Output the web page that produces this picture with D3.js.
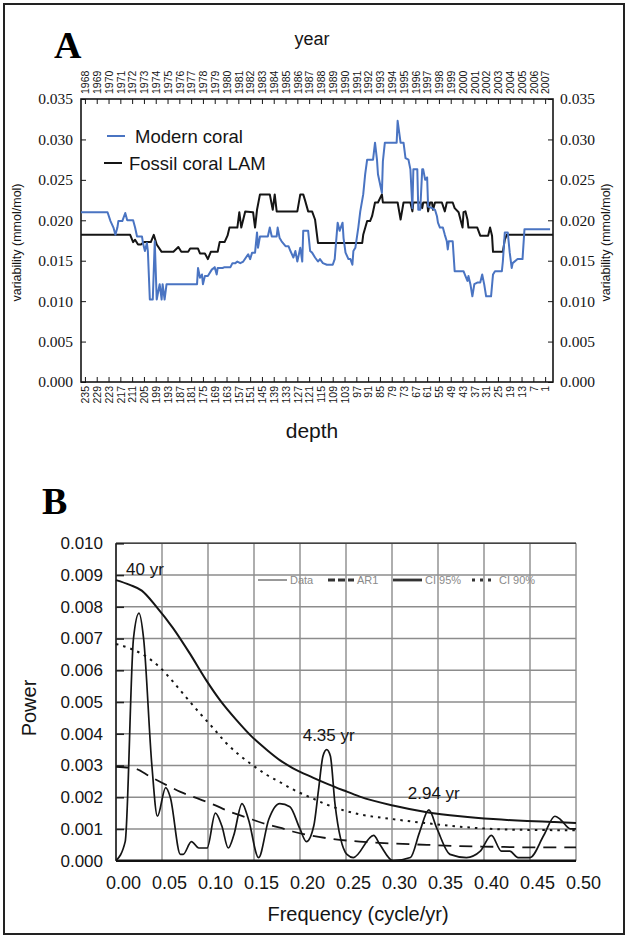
<!DOCTYPE html>
<html>
<head>
<meta charset="utf-8">
<script src="https://cdn.jsdelivr.net/npm/d3@7"></script>
<style>
  body { margin: 0; background: #fff; }
  svg { display: block; }
</style>
</head>
<body>
<svg id="fig" width="628" height="938"></svg>
<script>
// ---------- Panel A: running Sr/Ca variability along the core ----------
const depthTicks = d3.range(235, 0, -6);          // 235, 229, ... , 1
const yearTicks = d3.range(1968, 2008);           // 1968 ... 2007
const variabilityTicks = [0, 0.005, 0.010, 0.015, 0.020, 0.025, 0.030, 0.035];

const modernDepth = [237, 223.5, 222, 220.5, 219.5, 218.5, 218, 216, 214.5, 213.5, 210.5, 209.5, 208.5, 206,
  205.5, 204.5, 203.5, 203, 202, 200.5, 199.5, 198.5, 197, 196, 195.5, 194.5, 193.5, 178, 177.5, 176.5, 175.5,
  175, 174, 172.5, 170.5, 169, 168, 167.5, 165, 164, 161, 160, 158.5, 157.5, 156, 154.5, 152, 151, 150, 148.5,
  147.5, 147, 146, 142, 141, 140, 137.5, 137, 136, 135, 133, 131.5, 130.5, 129, 128, 127, 125.5, 124.5, 124,
  121.5, 120.5, 119.5, 118, 116.5, 115.5, 114, 112, 109, 108, 107, 106.5, 105.5, 104, 103.5, 102.5, 101, 100,
  99, 98.5, 97.5, 96, 95, 93.5, 92.5, 91.5, 88.5, 87.5, 86.5, 86, 84, 83.5, 82.5, 76.5, 76, 74.5, 73, 72, 70.5,
  69.5, 68.5, 68, 66, 65.5, 64.5, 63.5, 63, 62, 61, 60.5, 58.5, 57, 56, 55.5, 54.5, 53, 52, 51, 50.5, 50, 48,
  47, 42.5, 41.5, 40.5, 40, 39, 38, 37, 35.5, 34, 33, 32, 31, 28.5, 27.5, 26.5, 23, 22.5, 21.5, 20, 19, 18,
  17.5, 15, 12.5, 11.5, 10, -1.5];
const modernValue = [0.0210, 0.0210, 0.0199, 0.0191, 0.0182, 0.0191, 0.0199, 0.0199, 0.0209, 0.0200, 0.0200,
  0.0191, 0.0180, 0.0180, 0.0172, 0.0162, 0.0172, 0.0162, 0.0102, 0.0102, 0.0174, 0.0102, 0.0121, 0.0102,
  0.0121, 0.0102, 0.0121, 0.0121, 0.0141, 0.0129, 0.0133, 0.0121, 0.0131, 0.0131, 0.0139, 0.0142, 0.0133,
  0.0141, 0.0141, 0.0142, 0.0142, 0.0147, 0.0147, 0.0149, 0.0147, 0.0149, 0.0158, 0.0152, 0.0160, 0.0160,
  0.0185, 0.0166, 0.0180, 0.0180, 0.0191, 0.0180, 0.0180, 0.0191, 0.0178, 0.0174, 0.0168, 0.0168, 0.0162,
  0.0154, 0.0162, 0.0149, 0.0166, 0.0149, 0.0187, 0.0187, 0.0162, 0.0160, 0.0154, 0.0149, 0.0152, 0.0147,
  0.0145, 0.0145, 0.0152, 0.0182, 0.0197, 0.0187, 0.0197, 0.0178, 0.0160, 0.0152, 0.0152, 0.0145, 0.0162,
  0.0166, 0.0191, 0.0211, 0.0232, 0.0257, 0.0275, 0.0275, 0.0296, 0.0275, 0.0257, 0.0234, 0.0273, 0.0296,
  0.0296, 0.0323, 0.0296, 0.0296, 0.0277, 0.0275, 0.0263, 0.0215, 0.0263, 0.0263, 0.0213, 0.0213, 0.0263,
  0.0263, 0.0250, 0.0253, 0.0217, 0.0215, 0.0213, 0.0205, 0.0197, 0.0191, 0.0191, 0.0182, 0.0174, 0.0164,
  0.0174, 0.0174, 0.0137, 0.0137, 0.0131, 0.0125, 0.0131, 0.0121, 0.0106, 0.0121, 0.0123, 0.0123, 0.0133,
  0.0121, 0.0106, 0.0106, 0.0133, 0.0137, 0.0137, 0.0149, 0.0185, 0.0185, 0.0160, 0.0141, 0.0147, 0.0152,
  0.0152, 0.0189, 0.0189, 0.0189];

const fossilDepth = [237, 212, 210.5, 209.5, 208, 206.5, 205, 201.5, 200, 198.5, 196, 190, 187.5, 186, 182.5,
  181.5, 177.5, 176.5, 174, 172.5, 171, 167.5, 166.5, 164, 162.5, 161.5, 157.5, 156.5, 155.5, 153.5, 149.5,
  148.5, 147.5, 146, 141, 139.5, 138.5, 137.5, 127, 125.5, 124, 123, 121.5, 119.5, 118, 116.5, 94, 93.5, 91.5,
  90, 89, 87.5, 86, 84, 83.5, 76, 74.5, 73, 69.5, 68.5, 68, 64.5, 63.5, 63, 61, 60.5, 59.5, 58.5, 58, 57, 53.5,
  52, 51, 48, 47, 45, 43, 42.5, 41.5, 40.5, 40, 35.5, 34, 30, 29, 28, 27.5, 22.5, 21.5, 20.5, -3];
const fossilValue = [0.0182, 0.0182, 0.0173, 0.0176, 0.0170, 0.0170, 0.0173, 0.0173, 0.0182, 0.0170, 0.0161,
  0.0161, 0.0167, 0.0161, 0.0161, 0.0165, 0.0165, 0.0159, 0.0159, 0.0152, 0.0161, 0.0161, 0.0173, 0.0173,
  0.0181, 0.0191, 0.0191, 0.0210, 0.0191, 0.0211, 0.0210, 0.0191, 0.0213, 0.0232, 0.0232, 0.0213, 0.0232,
  0.0211, 0.0211, 0.0232, 0.0232, 0.0224, 0.0211, 0.0211, 0.0201, 0.0172, 0.0172, 0.0182, 0.0199, 0.0199,
  0.0205, 0.0222, 0.0222, 0.0232, 0.0222, 0.0222, 0.0201, 0.0222, 0.0222, 0.0211, 0.0222, 0.0222, 0.0215,
  0.0222, 0.0222, 0.0211, 0.0222, 0.0222, 0.0213, 0.0222, 0.0222, 0.0211, 0.0222, 0.0222, 0.0215, 0.0210,
  0.0191, 0.0210, 0.0211, 0.0201, 0.0191, 0.0191, 0.0181, 0.0181, 0.0191, 0.0181, 0.0161, 0.0161, 0.0176,
  0.0182, 0.0182];

// ---------- Panel B: power spectrum ----------
const freqTicks = [0, 0.05, 0.10, 0.15, 0.20, 0.25, 0.30, 0.35, 0.40, 0.45, 0.50];
const powerTicks = [0, 0.001, 0.002, 0.003, 0.004, 0.005, 0.006, 0.007, 0.008, 0.009, 0.010];

const spectrumFreq = [0, 0.010, 0.019, 0.025, 0.030, 0.039, 0.045, 0.054, 0.059, 0.070, 0.073, 0.082, 0.090,
  0.099, 0.108, 0.115, 0.122, 0.128, 0.137, 0.144, 0.155, 0.166, 0.178, 0.189, 0.200, 0.207, 0.215, 0.220,
  0.225, 0.229, 0.233, 0.238, 0.251, 0.258, 0.280, 0.287, 0.301, 0.320, 0.330, 0.340, 0.349, 0.363, 0.381,
  0.396, 0.408, 0.419, 0.428, 0.437, 0.450, 0.465, 0.477, 0.483, 0.494, 0.500];
const spectrumPower = [0, 0.0006, 0.0070, 0.0078, 0.0070, 0.0030, 0.0014, 0.0023, 0.0020, 0.0002, 0.0002,
  0.0006, 0.0004, 0.0004, 0.0015, 0.0011, 0.0004, 0.0008, 0.0018, 0.0013, 0.0001, 0.0013, 0.0018, 0.0017,
  0.0010, 0.0006, 0.0011, 0.0022, 0.0033, 0.0035, 0.0033, 0.0018, 0.0002, 0.0001, 0.0008, 0.0005, 0.0000,
  0.0001, 0.0009, 0.0016, 0.0010, 0.0002, 0.0001, 0.0003, 0.0008, 0.0003, 0.0003, 0.0001, 0.0001, 0.0008,
  0.0014, 0.0013, 0.0010, 0.0010];

const ar1Freq = [0, 0.021, 0.037, 0.055, 0.070, 0.088, 0.105, 0.124, 0.142, 0.160, 0.178, 0.192, 0.229, 0.265,
  0.301, 0.338, 0.374, 0.410, 0.447, 0.500];
const ar1Power = [0.00296, 0.00290, 0.00265, 0.00238, 0.00217, 0.00197, 0.00178, 0.00154, 0.00136, 0.00118,
  0.00104, 0.00092, 0.00071, 0.00060, 0.00054, 0.00050, 0.00046, 0.00044, 0.00042, 0.00042];

const ci95Freq = [0, 0.015, 0.028, 0.044, 0.062, 0.080, 0.098, 0.113, 0.131, 0.149, 0.164, 0.178, 0.192, 0.214,
  0.229, 0.247, 0.265, 0.301, 0.338, 0.374, 0.410, 0.447, 0.475, 0.500];
const ci95Power = [0.00884, 0.00869, 0.00851, 0.00800, 0.00733, 0.00654, 0.00569, 0.00506, 0.00443, 0.00387,
  0.00349, 0.00317, 0.00292, 0.00262, 0.00243, 0.00222, 0.00202, 0.00174, 0.00153, 0.00140, 0.00131, 0.00125,
  0.00122, 0.00119];

const ci90Freq = [0, 0.015, 0.033, 0.048, 0.062, 0.077, 0.091, 0.105, 0.120, 0.134, 0.149, 0.164, 0.178, 0.192,
  0.214, 0.229, 0.247, 0.265, 0.301, 0.338, 0.374, 0.410, 0.447, 0.500];
const ci90Power = [0.00683, 0.00669, 0.00643, 0.00608, 0.00564, 0.00512, 0.00465, 0.00420, 0.00370, 0.00333,
  0.00300, 0.00270, 0.00248, 0.00225, 0.00196, 0.00177, 0.00159, 0.00146, 0.00131, 0.00118, 0.00107, 0.00100,
  0.00097, 0.00096];

const peakLabels = ["40 yr", "4.35 yr", "2.94 yr"];
const peakFreq = [0.025, 0.229, 0.340];

// ---------- drawing ----------
const svg = d3.select("#fig");
const sans = "'Liberation Sans', Arial, sans-serif";
const serif = "'Liberation Serif', 'Times New Roman', serif";
const blue = "#4a74c2";
const ink = "#151515";

svg.append("rect").attr("x", 4).attr("y", 4).attr("width", 620).attr("height", 930)
  .attr("fill", "none").attr("stroke", "#222").attr("stroke-width", 2);

// ===== Panel A =====
const A = { left: 81, right: 553, top: 99, bottom: 382 };
const xA = d3.scaleLinear().domain([237, -3]).range([A.left, A.right]);
const yA = d3.scaleLinear().domain([0, 0.035]).range([A.bottom, A.top]);
const xYear = d3.scaleLinear().domain([1968, 2007]).range([xA(235), xA(1)]);

const gA = svg.append("g");

gA.append("text").attr("x", 54).attr("y", 58).text("A")
  .attr("font-family", serif).attr("font-weight", "bold").attr("font-size", 38).attr("fill", "#000");

gA.append("text").attr("x", 312).attr("y", 45).attr("text-anchor", "middle").text("year")
  .attr("font-family", sans).attr("font-size", 18).attr("fill", ink);

// bottom (depth) and top (year) axes with inward ticks
const depthAxis = d3.axisBottom(xA).tickValues(depthTicks).tickSize(-5).tickFormat(d3.format("d"));
const gDepth = gA.append("g").attr("transform", `translate(0,${A.bottom})`).call(depthAxis);
gDepth.select(".domain").remove();
gDepth.selectAll("line").attr("stroke", ink);
gDepth.selectAll("text")
  .attr("font-family", sans).attr("font-size", 10.5).attr("fill", ink)
  .attr("text-anchor", "end")
  .attr("transform", "rotate(-90)")
  .attr("x", -4).attr("y", 0).attr("dy", "0.35em");

const yearAxis = d3.axisTop(xYear).tickValues(yearTicks).tickSize(-5).tickFormat(d3.format("d"));
const gYear = gA.append("g").attr("transform", `translate(0,${A.top})`).call(yearAxis);
gYear.select(".domain").remove();
gYear.selectAll("line").attr("stroke", ink);
gYear.selectAll("text")
  .attr("font-family", sans).attr("font-size", 10.5).attr("fill", ink)
  .attr("text-anchor", "start")
  .attr("transform", "rotate(-90)")
  .attr("x", 5).attr("y", 0).attr("dy", "0.35em");

const fmt3 = d3.format(".3f");
const leftAxis = d3.axisLeft(yA).tickValues(variabilityTicks).tickSize(-5).tickPadding(8).tickFormat(fmt3);
const gLeft = gA.append("g").attr("transform", `translate(${A.left},0)`).call(leftAxis);
gLeft.select(".domain").remove();
gLeft.selectAll("line").attr("stroke", ink);
gLeft.selectAll("text").attr("font-family", serif).attr("font-size", 15.5).attr("fill", ink);

const rightAxis = d3.axisRight(yA).tickValues(variabilityTicks).tickSize(-5).tickPadding(7).tickFormat(fmt3);
const gRight = gA.append("g").attr("transform", `translate(${A.right},0)`).call(rightAxis);
gRight.select(".domain").remove();
gRight.selectAll("line").attr("stroke", ink);
gRight.selectAll("text").attr("font-family", serif).attr("font-size", 15.5).attr("fill", ink);

gA.append("rect").attr("x", A.left).attr("y", A.top)
  .attr("width", A.right - A.left).attr("height", A.bottom - A.top)
  .attr("fill", "none").attr("stroke", ink).attr("stroke-width", 1.6);

const yTitle = "variability (mmol/mol)";
gA.append("text").attr("transform", `translate(21,${(A.top + A.bottom) / 2 + 2}) rotate(-90)`)
  .attr("text-anchor", "middle").text(yTitle)
  .attr("font-family", sans).attr("font-size", 12.5).attr("fill", ink);
gA.append("text").attr("transform", `translate(610,${(A.top + A.bottom) / 2 + 2}) rotate(-90)`)
  .attr("text-anchor", "middle").text(yTitle)
  .attr("font-family", sans).attr("font-size", 12.5).attr("fill", ink);

gA.append("text").attr("x", 312).attr("y", 438).attr("text-anchor", "middle").text("depth")
  .attr("font-family", sans).attr("font-size", 21).attr("fill", ink);

const lineA = (ds, vs) => d3.line()
  .x((d, i) => xA(ds[i])).y((d, i) => yA(vs[i]))(ds);

gA.append("path").attr("d", lineA(fossilDepth, fossilValue))
  .attr("fill", "none").attr("stroke", ink).attr("stroke-width", 2).attr("stroke-linejoin", "round");
gA.append("path").attr("d", lineA(modernDepth, modernValue))
  .attr("fill", "none").attr("stroke", blue).attr("stroke-width", 2).attr("stroke-linejoin", "round");

// legend
const legendA = [
  { label: "Modern coral", color: blue, y: 136, x0: 107, x1: 125, tx: 135 },
  { label: "Fossil coral LAM", color: ink, y: 163, x0: 104, x1: 122, tx: 129 }
];
legendA.forEach(d => {
  gA.append("line").attr("x1", d.x0).attr("x2", d.x1).attr("y1", d.y).attr("y2", d.y)
    .attr("stroke", d.color).attr("stroke-width", 2);
  gA.append("text").attr("x", d.tx).attr("y", d.y + 6.5).text(d.label)
    .attr("font-family", sans).attr("font-size", 18.5).attr("fill", ink);
});

// ===== Panel B =====
const B = { left: 116, right: 576, top: 543.3, bottom: 860.7 };
const xB = d3.scaleLinear().domain([0, 0.5]).range([B.left, B.right]);
const yB = d3.scaleLinear().domain([0, 0.010]).range([B.bottom, B.top]);
const gB = svg.append("g");

gB.append("text").attr("x", 42).attr("y", 514).text("B")
  .attr("font-family", serif).attr("font-weight", "bold").attr("font-size", 38).attr("fill", "#000");

// grid
gB.append("g").selectAll("line").data(freqTicks).join("line")
  .attr("x1", d => xB(d)).attr("x2", d => xB(d)).attr("y1", B.top).attr("y2", B.bottom)
  .attr("stroke", "#8c8c8c").attr("stroke-width", 1.4);
gB.append("g").selectAll("line").data(powerTicks).join("line")
  .attr("x1", B.left).attr("x2", B.right).attr("y1", d => yB(d)).attr("y2", d => yB(d))
  .attr("stroke", "#8c8c8c").attr("stroke-width", 1.4);

// frame, inward ticks on the power axis
gB.append("line").attr("x1", B.left).attr("x2", B.right).attr("y1", B.top).attr("y2", B.top)
  .attr("stroke", "#444").attr("stroke-width", 1.6);
gB.append("line").attr("x1", B.left).attr("x2", B.left).attr("y1", B.top).attr("y2", B.bottom)
  .attr("stroke", "#333").attr("stroke-width", 1.8);

const powerAxis = d3.axisLeft(yB).tickValues(powerTicks).tickSize(-8).tickPadding(13).tickFormat(fmt3);
const gPow = gB.append("g").attr("transform", `translate(${B.left},0)`).call(powerAxis);
gPow.select(".domain").remove();
gPow.selectAll("line").attr("stroke", "#222").attr("stroke-width", 1.6);
gPow.selectAll("text").attr("font-family", sans).attr("font-size", 17).attr("fill", ink);

const freqAxis = d3.axisBottom(xB).tickValues(freqTicks).tickSize(0).tickPadding(16).tickFormat(d3.format(".2f"));
const gFreq = gB.append("g").attr("transform", `translate(0,${B.bottom})`).call(freqAxis);
gFreq.select(".domain").remove();
gFreq.selectAll("text").attr("font-family", sans).attr("font-size", 18).attr("fill", ink).attr("dx", 7);

gB.append("text").attr("transform", `translate(36,${(B.top + B.bottom) / 2 + 6}) rotate(-90)`)
  .attr("text-anchor", "middle").text("Power")
  .attr("font-family", sans).attr("font-size", 20).attr("fill", ink);
gB.append("text").attr("x", 358).attr("y", 921).attr("text-anchor", "middle").text("Frequency (cycle/yr)")
  .attr("font-family", sans).attr("font-size", 20).attr("fill", ink);

const smooth = (fs, ps) => d3.line().curve(d3.curveMonotoneX)
  .x((d, i) => xB(fs[i])).y((d, i) => yB(ps[i]))(fs);

gB.append("path").attr("d", smooth(ci90Freq, ci90Power)).attr("fill", "none")
  .attr("stroke", ink).attr("stroke-width", 2).attr("stroke-dasharray", "2.5,5");
gB.append("path").attr("d", smooth(ar1Freq, ar1Power)).attr("fill", "none")
  .attr("stroke", ink).attr("stroke-width", 1.8).attr("stroke-dasharray", "13,8");
gB.append("path").attr("d", smooth(ci95Freq, ci95Power)).attr("fill", "none")
  .attr("stroke", ink).attr("stroke-width", 2);
gB.append("path").attr("d", smooth(spectrumFreq, spectrumPower)).attr("fill", "none")
  .attr("stroke", ink).attr("stroke-width", 1.7).attr("stroke-linejoin", "round");

// bottom axis line drawn over the curves
gB.append("line").attr("x1", B.left).attr("x2", B.right).attr("y1", B.bottom).attr("y2", B.bottom)
  .attr("stroke", "#111").attr("stroke-width", 2.6);

// peak period labels
const peakPower = peakFreq.map(f => {
  const i = d3.leastIndex(spectrumFreq, g => Math.abs(g - f));
  return spectrumPower[i];
});
const peakOffset = [[6, -38], [2, -9], [5, -11]];
peakLabels.forEach((t, i) => {
  gB.append("text").attr("x", xB(peakFreq[i]) + peakOffset[i][0]).attr("y", yB(peakPower[i]) + peakOffset[i][1])
    .attr("text-anchor", "middle").text(t)
    .attr("font-family", sans).attr("font-size", 17).attr("fill", ink);
});

// legend
const legendB = [
  { label: "Data", x0: 258, x1: 287, w: 1, dash: null },
  { label: "AR1", x0: 328, x1: 354, w: 2.8, dash: "7,3" },
  { label: "CI 95%", x0: 393, x1: 422, w: 2.8, dash: null },
  { label: "CI 90%", x0: 472, x1: 496, w: 2.8, dash: "3,5" }
];
const legY = 580;
legendB.forEach(d => {
  gB.append("line").attr("x1", d.x0).attr("x2", d.x1).attr("y1", legY).attr("y2", legY)
    .attr("stroke", "#333").attr("stroke-width", d.w).attr("stroke-dasharray", d.dash);
  gB.append("text").attr("x", d.x1 + 3).attr("y", legY + 4).text(d.label)
    .attr("font-family", sans).attr("font-size", 11).attr("fill", "#8a8a8a");
});
</script>
</body>
</html>
